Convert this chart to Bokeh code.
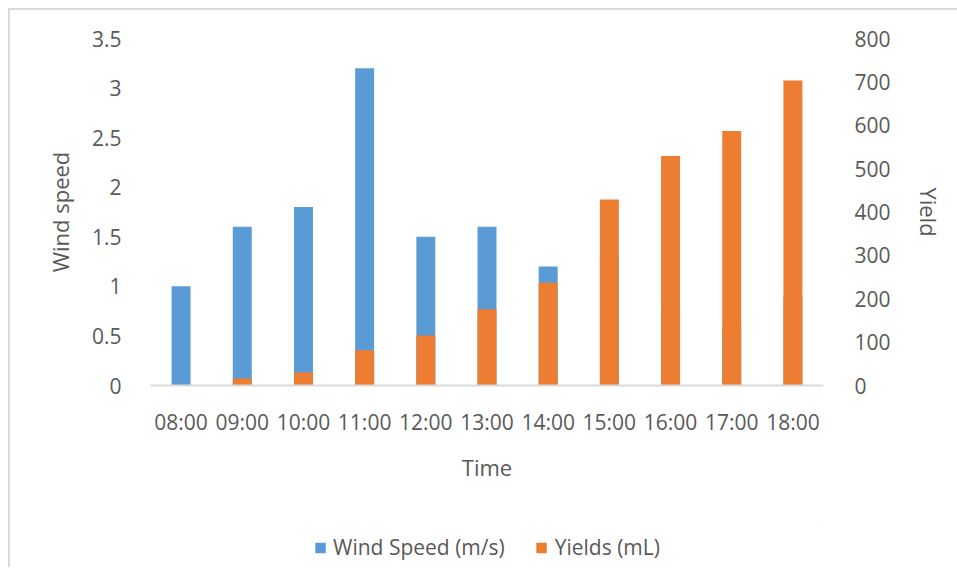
from bokeh.plotting import figure
from bokeh.layouts import column
from bokeh.models import (Range1d, LinearAxis, FactorRange, ColumnDataSource, Legend,
                          LegendItem, FixedTicker, NumeralTickFormatter)
from bokeh.embed import file_html
from bokeh.resources import INLINE

times = ["08:00", "09:00", "10:00", "11:00", "12:00", "13:00", "14:00",
         "15:00", "16:00", "17:00", "18:00"]
wind_speed = [1.0, 1.6, 1.8, 3.2, 1.5, 1.6, 1.2, 1.3, 0.8, 0.6, 0.9]
yields = [0, 16, 30, 81, 115, 176, 237, 429, 529, 587, 703]
wind_ticks = [0, 0.5, 1, 1.5, 2, 2.5, 3, 3.5]
yield_ticks = [0, 100, 200, 300, 400, 500, 600, 700, 800]
series_names = ["Wind Speed (m/s)", "Yields (mL)"]

FONT = "Open Sans"
TXT = "#595959"
BLUE = "#5B9BD5"
ORANGE = "#ED7D31"

src = ColumnDataSource(data=dict(t=times, w=wind_speed, y=yields))

p = figure(frame_width=673, frame_height=347, x_range=FactorRange(*times, range_padding=0),
           y_range=Range1d(0, 3.5), output_backend="svg", toolbar_location=None,
           min_border_left=140, min_border_right=134, min_border_top=28,
           min_border_bottom=115)
p.extra_y_ranges = {"yield": Range1d(0, 800)}
p.outline_line_color = None
p.xgrid.grid_line_color = None
p.ygrid.grid_line_color = None
p.background_fill_color = "white"
p.border_fill_color = "white"

p.vbar(x="t", top="w", bottom=0, width=0.31, source=src, fill_color=BLUE,
       line_color=None)
p.vbar(x="t", top="y", bottom=0, width=0.31, source=src, fill_color=ORANGE,
       line_color=None, y_range_name="yield")

def style_axis(ax):
    ax.major_tick_line_color = None
    ax.minor_tick_line_color = None
    ax.major_label_text_font = FONT
    ax.major_label_text_font_size = "21px"
    ax.major_label_text_color = TXT
    ax.axis_label_text_font = FONT
    ax.axis_label_text_font_size = "22px"
    ax.axis_label_text_color = TXT
    ax.axis_label_text_font_style = "normal"

yl = p.yaxis[0]
style_axis(yl)
yl.axis_line_color = None
yl.ticker = FixedTicker(ticks=wind_ticks)
yl.formatter = NumeralTickFormatter(format="0.[0]")
yl.axis_label = "Wind speed"
yl.major_label_standoff = 23
yl.axis_label_standoff = 14

yr = LinearAxis(y_range_name="yield", ticker=FixedTicker(ticks=yield_ticks))
style_axis(yr)
yr.axis_line_color = None
yr.axis_label = "Yield"
yr.major_label_standoff = 25
yr.axis_label_standoff = 20
p.add_layout(yr, "right")

xa = p.xaxis[0]
style_axis(xa)
xa.axis_line_color = "#D9D9D9"
xa.axis_line_width = 2
xa.axis_label = "Time"
xa.major_label_standoff = 16
xa.axis_label_standoff = 13

# Legend strip below the chart (dummy renderers lie outside the visible range)
lf = figure(width=947, height=67, output_backend="svg", toolbar_location=None,
            min_border_left=30, min_border_right=0, min_border_top=27,
            min_border_bottom=0, x_range=Range1d(0, 1), y_range=Range1d(0, 1))
lf.axis.visible = False
lf.grid.grid_line_color = None
lf.outline_line_color = None
lf.background_fill_alpha = 0
lf.border_fill_color = "white"
lr1 = lf.vbar(x=[5], top=[5], bottom=4, width=0.1, fill_color=BLUE, line_color=None)
lr2 = lf.vbar(x=[5], top=[5], bottom=4, width=0.1, fill_color=ORANGE, line_color=None)
legend = Legend(items=[LegendItem(label=series_names[0], renderers=[lr1]),
                       LegendItem(label=series_names[1], renderers=[lr2])],
                orientation="horizontal", location="center")
legend.label_text_font = FONT
legend.label_text_font_size = "21px"
legend.label_text_color = TXT
legend.border_line_color = None
legend.background_fill_alpha = 0
legend.glyph_width = 13
legend.glyph_height = 13
legend.label_standoff = 7
legend.spacing = 30
legend.margin = 0
legend.padding = 6
lf.add_layout(legend)

layout = column(p, lf, spacing=0)
layout.styles = {"margin-left": "8px", "margin-top": "8px",
                 "border-left": "2px solid #D9D9D9", "border-top": "2px solid #D9D9D9"}

open("out.html", "w").write(file_html(layout, INLINE))
